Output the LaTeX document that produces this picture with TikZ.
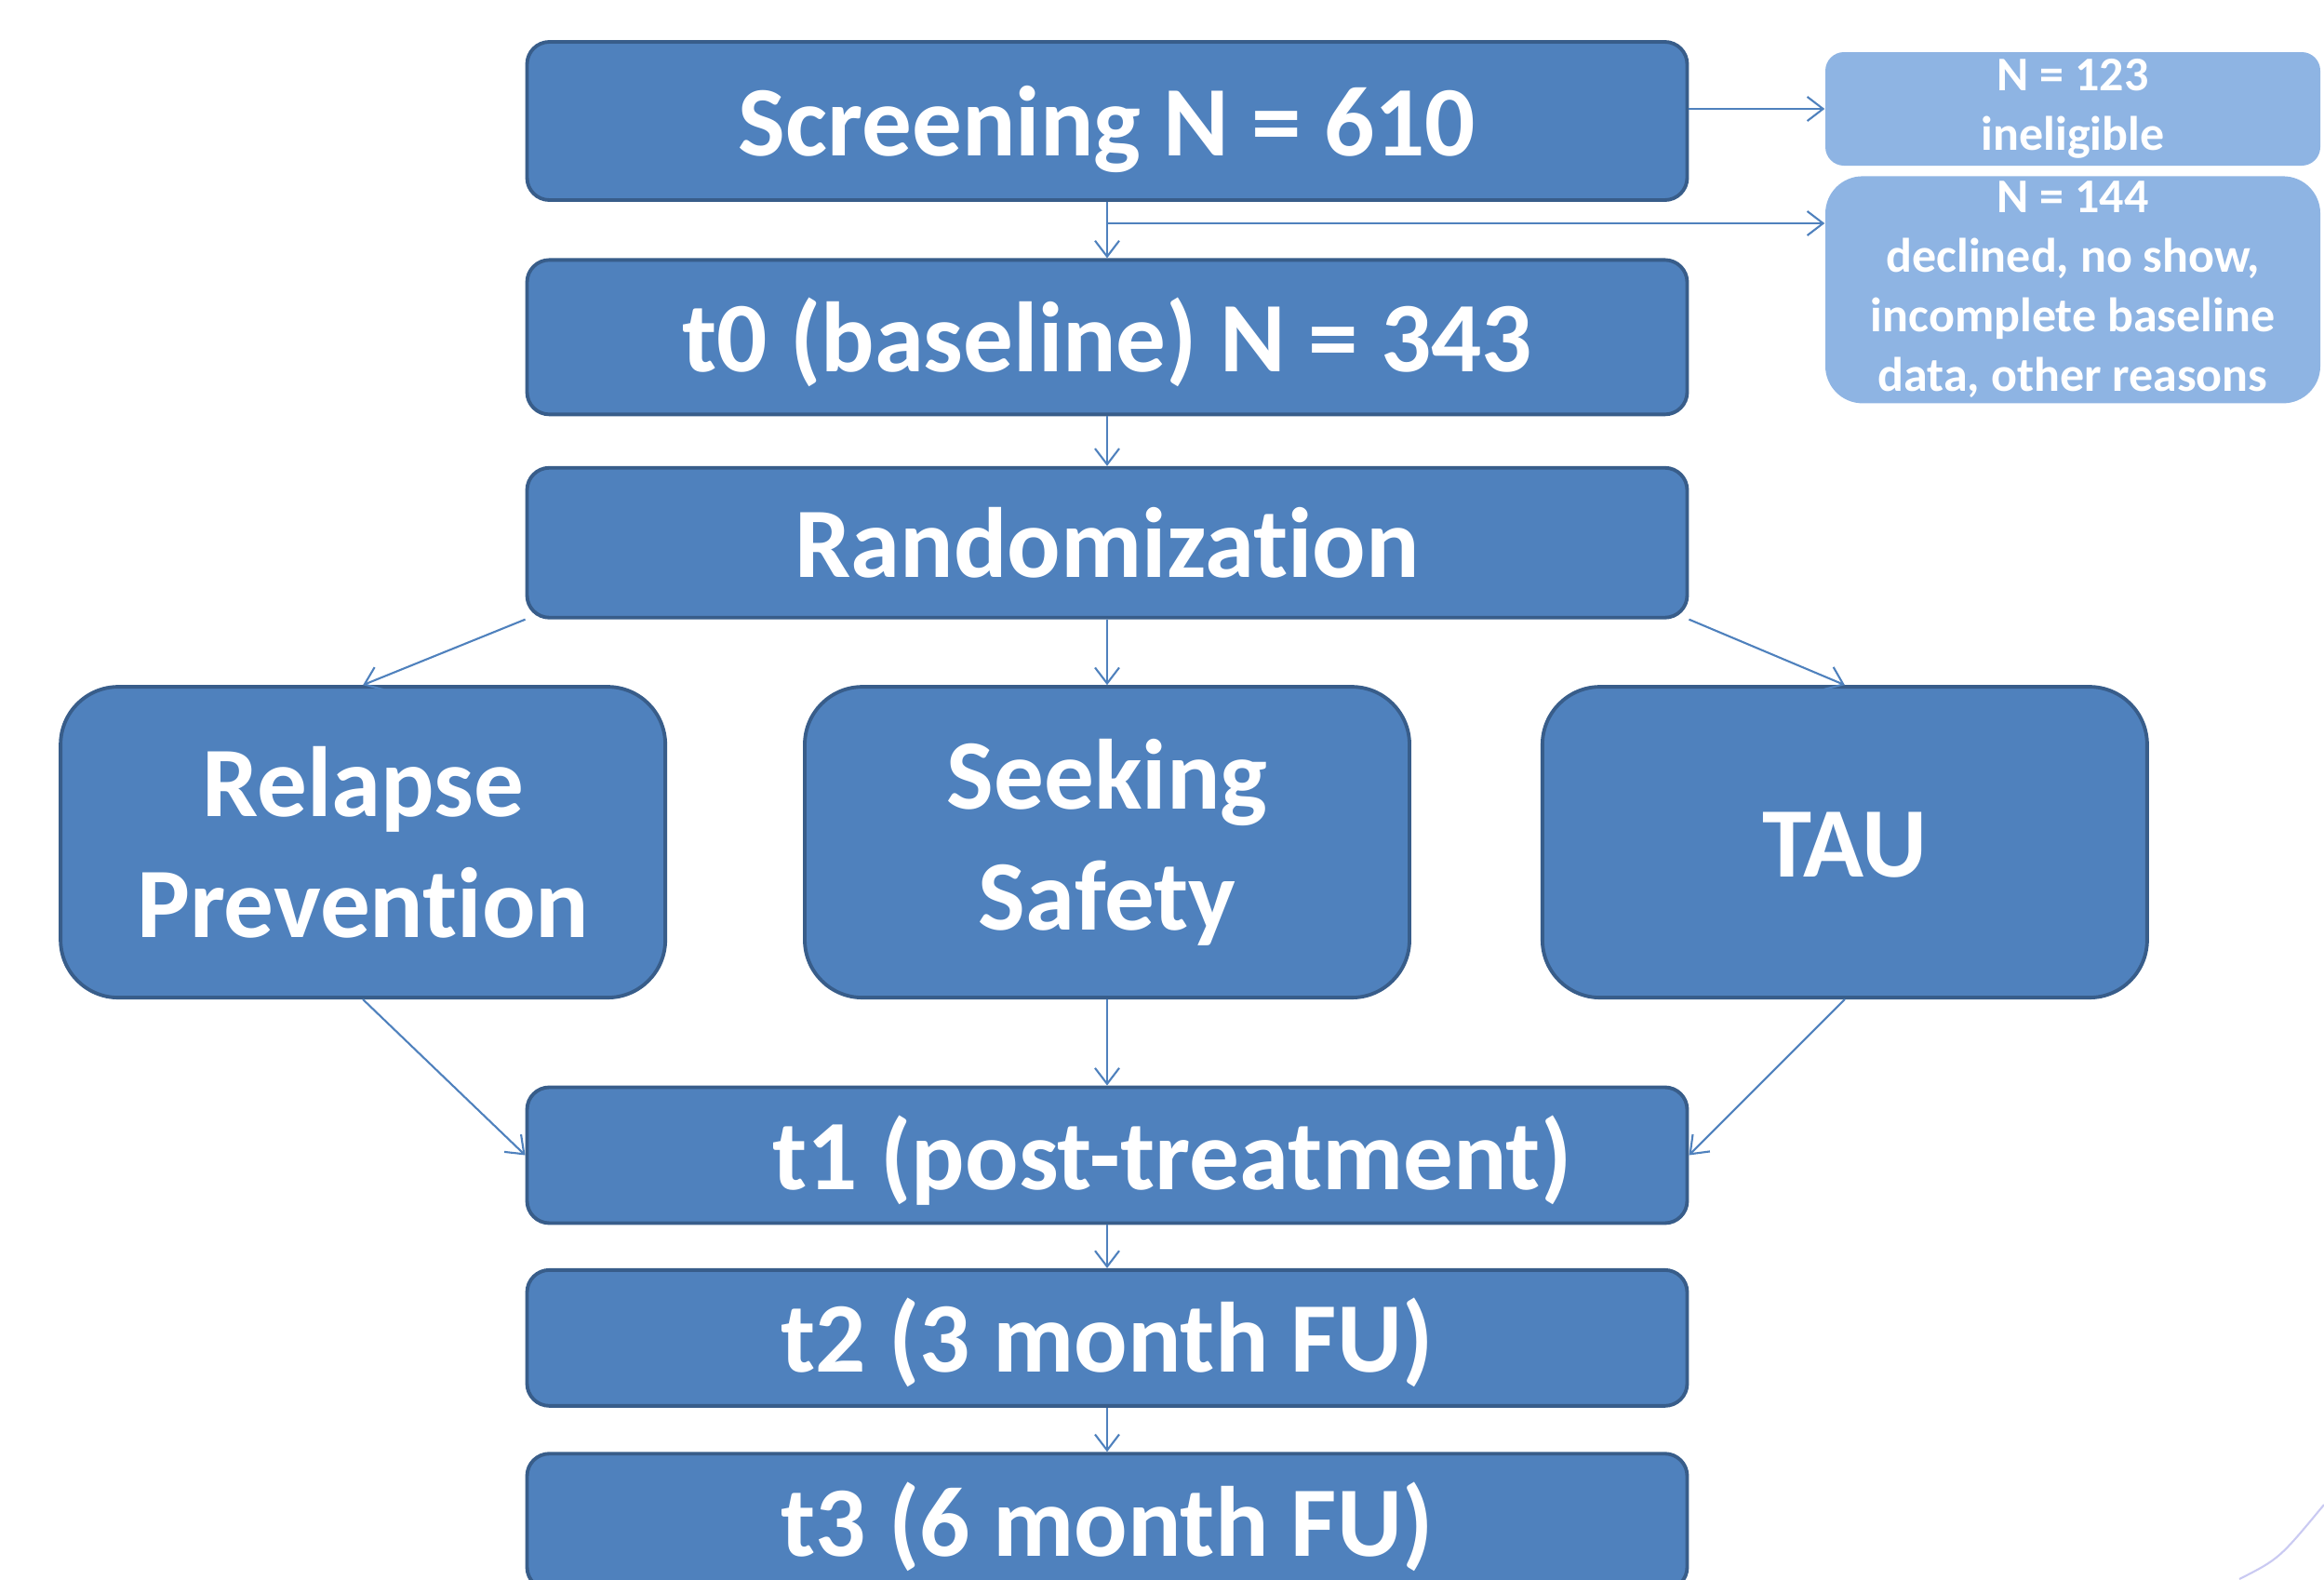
\documentclass[tikz,border=0pt]{standalone}
\usepackage{fontspec}
\setmainfont{Carlito}[Ligatures=NoCommon]
\usetikzlibrary{arrows.meta,positioning,shapes}
\definecolor{boxblue}{HTML}{4F81BD}
\definecolor{boxline}{HTML}{385D8A}
\definecolor{lightblue}{HTML}{8EB4E3}
\definecolor{arcline}{HTML}{CACAF2}

\begin{document}
\begin{tikzpicture}[node distance=0.6cm, >={Straight Barb[length=1.7mm,width=2.6mm]}]
        \tikzstyle{stage}=[draw=boxline, fill=boxblue, line width=1.1pt, rounded corners=0.24cm, text=white, font=\fontsize{30.5}{37}\selectfont\bfseries, minimum width=12.47cm, align=center]
        \tikzstyle{oneline}=[text height=0.9cm, text depth=0.16cm]
        \tikzstyle{arm}=[stage, rounded corners=0.62cm, minimum width=6.5cm, minimum height=3.34cm]
        \tikzstyle{excl}=[fill=lightblue, text=white, font=\fontsize{14.8}{18.2}\selectfont\bfseries, align=center, minimum width=5.32cm, inner sep=0pt]
        \tikzstyle{flow}=[->, boxblue, line width=0.6pt]

        \useasboundingbox (0,0) rectangle (24.98,-16.97);

        \node[stage, oneline, minimum height=1.70cm] (scr) at (11.9,-1.30) {Screening N = 610};
        \node[stage, oneline, minimum height=1.66cm] (t0) [below=0.605cm of scr] {t0 (baseline) N = 343};
        \node[stage, oneline, minimum height=1.61cm] (rand) [below=0.535cm of t0] {Randomization};

        \node[arm] (ss) [below=0.705cm of rand] {Seeking\\Safety};
        \node[arm] (rp) [left=1.46cm of ss] {Relapse\\Prevention};
        \node[arm, oneline] (tau) [right=1.39cm of ss] {TAU};

        \node[stage, oneline, minimum height=1.46cm] (t1) [below=0.925cm of ss] {\hspace*{1.4cm}t1 (post-treatment)};
        \node[stage, oneline, minimum height=1.46cm] (t2) [below=0.465cm of t1] {t2 (3 month FU)};
        \node[stage, oneline, minimum height=1.46cm] (t3) [below=0.475cm of t2] {t3 (6 month FU)};

        \node[excl, rounded corners=0.2cm, minimum height=1.22cm] (inel) at (22.28,-1.17) {N = 123\\ineligible};
        \node[excl, rounded corners=0.4cm, minimum height=2.44cm] (decl) [below=0.10cm of inel] {N = 144\\declined, no show,\\incomplete baseline\\data, other reasons};

        \coordinate (br) at (11.9,-2.40);

        \draw[flow] (scr.east |- inel.west) -- (inel.west);
        \draw[flow] (scr) -- (t0);
        \draw[flow] (br) -- (br -| decl.west);
        \draw[flow] (t0) -- (rand);

        \draw[flow] (rand.south west) -- (rp.north);
        \draw[flow] (rand) -- (ss);
        \draw[flow] (rand.south east) -- (tau.north);

        \draw[flow] (rp.south) -- (t1.west);
        \draw[flow] (ss) -- (t1);
        \draw[flow] (tau.south) -- (t1.east);

        \draw[flow] (t1) -- (t2);
        \draw[flow] (t2) -- (t3);

        \draw[arcline, line width=0.6pt] (24.07,-16.97) .. controls (24.5,-16.75) .. (24.98,-16.17);
    \end{tikzpicture}
\end{document}
